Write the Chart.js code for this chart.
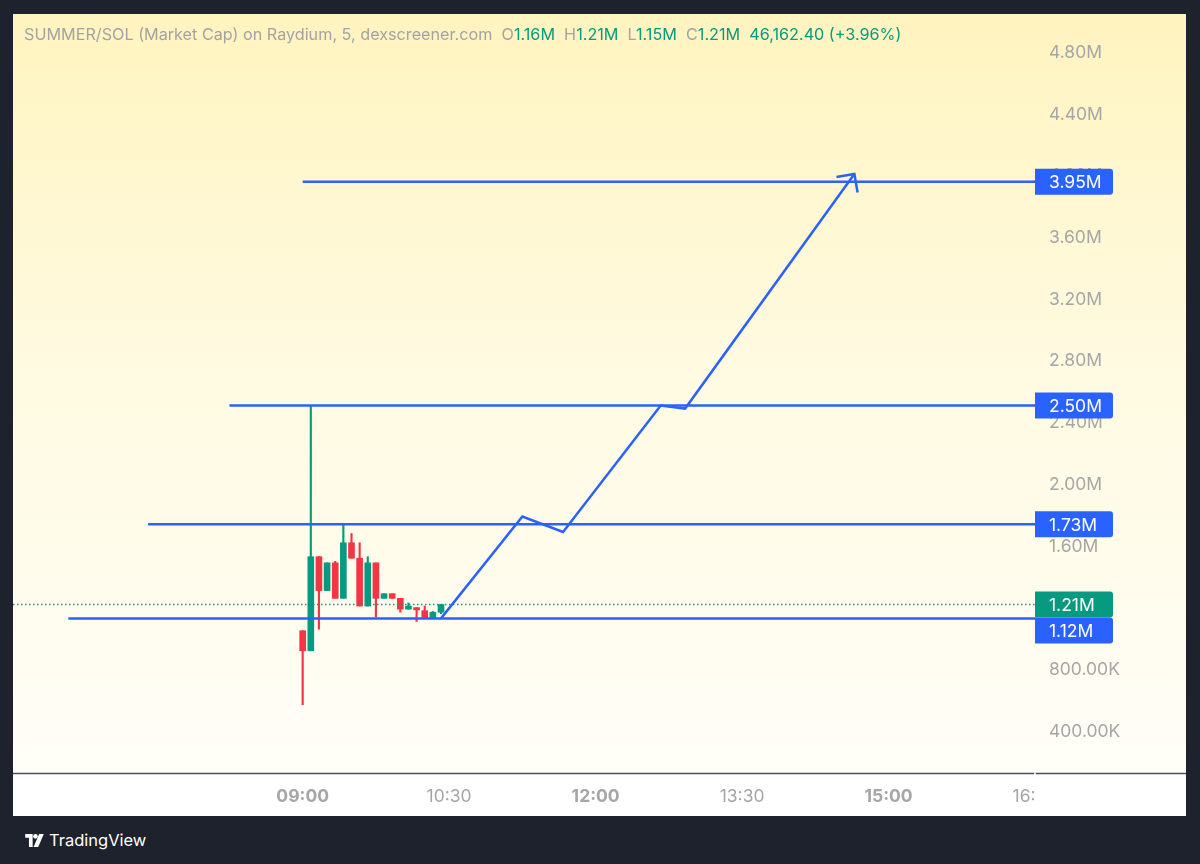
<!DOCTYPE html>
<html><head><meta charset="utf-8">
<script src="https://cdn.jsdelivr.net/npm/chart.js@4.4.1/dist/chart.umd.min.js"></script>
<style>
html,body{margin:0;padding:0;background:#1e222d;width:1200px;height:864px;overflow:hidden;font-family:Inter,"Noto Sans",sans-serif;}
#panel{position:absolute;left:13px;top:14px;width:1173px;height:802px;}
#c{position:absolute;left:0;top:0;}
#hdr{position:absolute;left:11px;top:10px;font-size:16.2px;color:#a3a3a3;white-space:pre;}
#hdr .g{color:#089981}
#brand{position:absolute;left:25px;top:830px;color:#fff;font-size:16.5px;display:flex;align-items:center;gap:5px}
</style></head><body>
<div id="panel"><canvas id="c" width="1173" height="802"></canvas><div id="hdr"></div></div>
<div id="brand"><svg width="19" height="13" viewBox="0 0 20 14"><path d="M0 0h8v14h-4v-10h-4z" fill="#fff"/><circle cx="11" cy="2.5" r="2.5" fill="#fff"/><path d="M15 0h5l-6 14h-5z" fill="#fff"/></svg><span>TradingView</span></div>
<script>
// ---- data ----
const titleText = 'SUMMER/SOL (Market Cap) on Raydium, 5, dexscreener.com';
const changeText = '46,162.40 (+3.96%)';
const candleTimes = ['09:00','09:05','09:10','09:15','09:20','09:25','09:30','09:35','09:40','09:45','09:50','09:55','10:00','10:05','10:10','10:15','10:20','10:25'];
const opens  = [1040000, 910000, 1520000, 1300000, 1480000, 1250000, 1610000, 1510000, 1200000, 1480000, 1250000, 1280000, 1250000, 1180000, 1190000, 1170000, 1125000, 1160000];
const highs  = [1040000, 2500000, 1520000, 1480000, 1490000, 1735000, 1670000, 1610000, 1520000, 1480000, 1280000, 1280000, 1250000, 1220000, 1190000, 1200000, 1165000, 1210000];
const lows   = [560000, 910000, 1050000, 1300000, 1250000, 1250000, 1510000, 1200000, 1200000, 1130000, 1250000, 1250000, 1160000, 1180000, 1100000, 1120000, 1125000, 1150000];
const closes = [910000, 1520000, 1300000, 1480000, 1250000, 1610000, 1510000, 1200000, 1480000, 1250000, 1280000, 1250000, 1180000, 1200000, 1175000, 1125000, 1160000, 1210000];
const levelValues = [1120000, 1730000, 2500000, 3950000];
const levelStarts = ['06:36', '07:25', '08:15', '09:00'];
const pathTimes  = ['10:25', '11:15', '11:40', '12:40', '12:55', '14:39'];
const pathValues = [1120000, 1780000, 1680000, 2500000, 2480000, 4000000];
const arrowTimes  = ['14:28', '14:39', '14:41'];
const arrowValues = [3980000, 4000000, 3880000];
const timeTicks = ['09:00', '10:30', '12:00', '13:30', '15:00', '16:30'];
const boldTimes = ['09:00', '12:00', '15:00'];
const priceStep = 400000;
const xRange = ['06:02', '16:30'];
const yRange = [118000, 5037000];

// ---- helpers ----
const toMin = t => { const [h, m] = t.split(':').map(Number); return h * 60 + m; };
const fmtTime = v => String(Math.floor(v / 60)).padStart(2, '0') + ':' + String(Math.round(v % 60)).padStart(2, '0');
const fmtPrice = v => v >= 1e6 ? (v / 1e6).toFixed(2) + 'M' : (v / 1e3).toFixed(2) + 'K';
const UP = '#089981', DOWN = '#f23645', BLUE = '#2962ff';
const FONT = 'Inter, "Noto Sans", sans-serif';
const X_MIN = toMin(xRange[0]), X_MAX = toMin(xRange[1]);

// header
const last = candleTimes.length - 1;
document.getElementById('hdr').innerHTML = titleText +
  '  O<span class="g">' + fmtPrice(opens[last]) + '</span>' +
  '  H<span class="g">' + fmtPrice(highs[last]) + '</span>' +
  '  L<span class="g">' + fmtPrice(lows[last]) + '</span>' +
  '  C<span class="g">' + fmtPrice(closes[last]) + '</span>' +
  '  <span class="g">' + changeText + '</span>';

const candleColors = closes.map((c, i) => c >= opens[i] ? UP : DOWN);
const lastPrice = closes[last];

const datasets = [];
levelValues.forEach((v, i) => datasets.push({
  type: 'line', order: 0,
  data: [{x: toMin(levelStarts[i]), y: v}, {x: X_MAX, y: v}],
  borderColor: BLUE, borderWidth: 2.5, pointRadius: 0, tension: 0
}));
datasets.push({type: 'line', order: 0,
  data: pathTimes.map((t, i) => ({x: toMin(t), y: pathValues[i]})),
  borderColor: BLUE, borderWidth: 2.5, pointRadius: 0, tension: 0, borderJoinStyle: 'miter', clip: false});
datasets.push({type: 'line', order: 0,
  data: arrowTimes.map((t, i) => ({x: toMin(t), y: arrowValues[i]})),
  borderColor: BLUE, borderWidth: 2.5, pointRadius: 0, tension: 0, borderJoinStyle: 'miter', clip: false});
datasets.push({type: 'line', order: 1,
  data: [{x: X_MIN, y: lastPrice}, {x: X_MAX, y: lastPrice}],
  borderColor: '#2b8a74', borderWidth: 1.5, borderDash: [1.5, 2.5], pointRadius: 0});
datasets.push({type: 'bar', order: 2, grouped: false,
  data: candleTimes.map((t, i) => ({x: toMin(t), y: [opens[i], closes[i]]})),
  backgroundColor: candleColors, barThickness: 6, minBarLength: 2});
datasets.push({type: 'bar', order: 3, grouped: false,
  data: candleTimes.map((t, i) => ({x: toMin(t), y: [lows[i], highs[i]]})),
  backgroundColor: candleColors, barThickness: 1.5});

const bgPlugin = {
  id: 'bg',
  beforeDraw(chart) {
    const {ctx, chartArea, width, height} = chart;
    const g = ctx.createLinearGradient(0, 0, 0, chartArea.bottom);
    g.addColorStop(0, '#fff4bf');
    g.addColorStop(0.45, '#fffae0');
    g.addColorStop(1, '#fffef8');
    ctx.save();
    ctx.fillStyle = g;
    ctx.fillRect(0, 0, width, chartArea.bottom);
    ctx.fillStyle = '#ffffff';
    ctx.fillRect(0, chartArea.bottom, width, height - chartArea.bottom);
    ctx.restore();
  },
  afterDraw(chart) {
    const {ctx, chartArea, width, height} = chart;
    ctx.save();
    ctx.fillStyle = '#ffffff';
    ctx.fillRect(chartArea.right, chartArea.bottom + 1, width - chartArea.right, height - chartArea.bottom);
    ctx.strokeStyle = '#4a4d55';
    ctx.lineWidth = 1.5;
    ctx.beginPath();
    ctx.moveTo(0, chartArea.bottom + 0.5);
    ctx.lineTo(width, chartArea.bottom + 0.5);
    ctx.stroke();
    ctx.strokeStyle = '#ffffff';
    ctx.beginPath();
    ctx.moveTo(chartArea.right, chartArea.bottom - 3);
    ctx.lineTo(chartArea.right, chartArea.bottom + 3);
    ctx.stroke();
    ctx.restore();
  }
};

const labelPlugin = {
  id: 'priceLabels',
  afterDatasetsDraw(chart) {
    const {ctx, chartArea, scales: {y}} = chart;
    const H = 26, W = 78;
    const yLast = y.getPixelForValue(lastPrice);
    const items = levelValues.map(v => {
      let py = y.getPixelForValue(v);
      if (Math.abs(py - yLast) < H) py = py >= yLast ? yLast + H : yLast - H;
      return {v, py, color: BLUE};
    });
    items.push({v: lastPrice, py: yLast, color: UP});
    ctx.save();
    ctx.font = '17.5px ' + FONT;
    ctx.textBaseline = 'middle';
    ctx.textAlign = 'left';
    items.forEach(it => {
      ctx.fillStyle = it.color;
      ctx.beginPath();
      ctx.roundRect(chartArea.right, it.py - H / 2, W, H, [0, 3, 3, 0]);
      ctx.fill();
      ctx.fillStyle = '#ffffff';
      ctx.fillText(fmtPrice(it.v), chartArea.right + 14, it.py + 1);
    });
    ctx.restore();
  }
};

new Chart(document.getElementById('c'), {
  type: 'bar',
  data: {datasets},
  plugins: [bgPlugin, labelPlugin],
  options: {
    responsive: false,
    animation: false,
    events: [],
    layout: {padding: 0},
    plugins: {legend: {display: false}, tooltip: {enabled: false}, title: {display: false}},
    scales: {
      x: {
        type: 'linear', position: 'bottom', min: X_MIN, max: X_MAX, offset: false,
        grid: {display: false, drawTicks: false}, border: {display: false},
        afterBuildTicks: s => { s.ticks = timeTicks.map(t => ({value: toMin(t)})); },
        afterFit: s => { s.height = 43; s.paddingLeft = 0; s.paddingRight = 0; },
        ticks: {
          autoSkip: false, maxRotation: 0, padding: 13,
          color: '#a6a6a6',
          font: ctx => ({family: FONT, size: 17.5,
            weight: (ctx.tick && boldTimes.includes(fmtTime(ctx.tick.value))) ? 'bold' : 'normal'}),
          callback: v => fmtTime(v)
        }
      },
      y: {
        type: 'linear', position: 'right', min: yRange[0], max: yRange[1],
        grid: {display: false, drawTicks: false}, border: {display: false},
        afterBuildTicks: s => {
          const t = [];
          for (let v = Math.ceil(s.min / priceStep) * priceStep; v <= s.max; v += priceStep) t.push({value: v});
          s.ticks = t;
        },
        afterFit: s => { s.width = 151; s.paddingTop = 0; s.paddingBottom = 0; },
        ticks: {padding: 14, labelOffset: 2, color: '#a6a6a6', font: {family: FONT, size: 17.5}, callback: v => fmtPrice(v)}
      }
    }
  }
});
</script>
</body></html>
